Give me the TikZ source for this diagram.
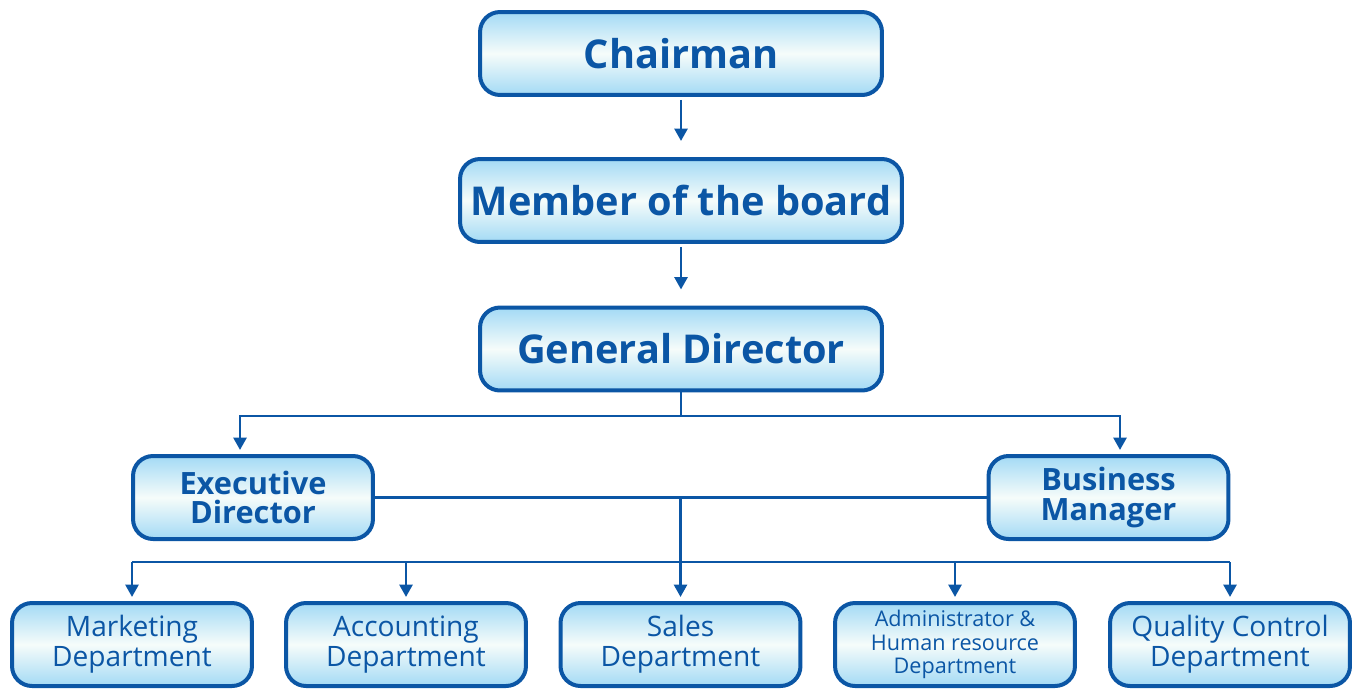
\documentclass[tikz,border=0pt]{standalone}
\usepackage{fontspec}
\setmainfont{Open Sans}
\usetikzlibrary{arrows.meta}
\definecolor{orgblue}{HTML}{0B56A5}
\definecolor{orglight}{HTML}{A3DAF5}
\definecolor{orgwhite}{HTML}{F6FCFA}
\tikzset{
  box/.style={draw=orgblue, line width=0.08cm, rounded corners=0.4cm,
    top color=orglight, bottom color=orglight, middle color=orgwhite,
    text=orgblue, align=center, inner sep=0pt},
  bigbox/.style={box, minimum width=8.04cm, minimum height=1.66cm, font=\fontsize{22.6}{27}\selectfont\bfseries},
  midbox/.style={box, minimum width=4.8cm, minimum height=1.66cm, font=\fontsize{17.5}{20}\selectfont\bfseries},
  depbox/.style={box, minimum width=4.8cm, minimum height=1.66cm, font=\fontsize{16}{17}\selectfont},
  link/.style={draw=orgblue, line width=0.058cm},
  arrow/.style={link, -{Triangle[width=0.26cm,length=0.25cm]}},
}
\begin{document}
\begin{tikzpicture}[x=0.02cm, y=-0.02cm]
\useasboundingbox (0,0) rectangle (1362,690);
% top chain
\node[bigbox] (chair) at (681,53.5) {Chairman};
\node[bigbox, minimum width=8.84cm] (board) at (681,200.5) {Member of the board};
\node[bigbox] (gd) at (681,349) {General Director};
\draw[arrow, shorten <=0.06cm, shorten >=0.32cm] (chair) -- (board);
\draw[arrow, shorten <=0.06cm, shorten >=0.32cm] (board) -- (gd);
% second level
\node[midbox] (exec) at (253,497.5) {Executive\\[-3pt]Director};
\node[midbox] (bm) at (1108.5,497.5) {Business\\[-3pt]Manager};
\coordinate (split) at (681,416);
\draw[link] (gd) -- (split);
\draw[arrow, shorten >=0.08cm] (split) -| ([xshift=-0.26cm]exec.north);
\draw[arrow, shorten >=0.08cm] (split) -| ([xshift=0.23cm]bm.north);
\draw[link] (exec) -- (bm);
% departments
\node[depbox] (mkt) at (132,644.5) {Marketing\\Department};
\node[depbox] (acc) at (406,644.5) {Accounting\\Department};
\node[depbox] (sales) at (680.5,644.5) {Sales\\Department};
\node[depbox, font=\fontsize{12.3}{13.2}\selectfont] (adm) at (955,644.5) {Administrator \&\\Human resource\\Department};
\node[depbox] (qc) at (1230,644.5) {Quality Control\\Department};
\coordinate (bus) at (0,562);
\draw[link] (mkt.north |- bus) -- (qc.north |- bus);
\draw[arrow, shorten >=0.08cm] (680.5,498) -- (sales.north);
\foreach \d in {mkt,acc,adm,qc}
  \draw[arrow, shorten >=0.08cm] (\d.north |- bus) -- (\d.north);
\end{tikzpicture}
\end{document}
